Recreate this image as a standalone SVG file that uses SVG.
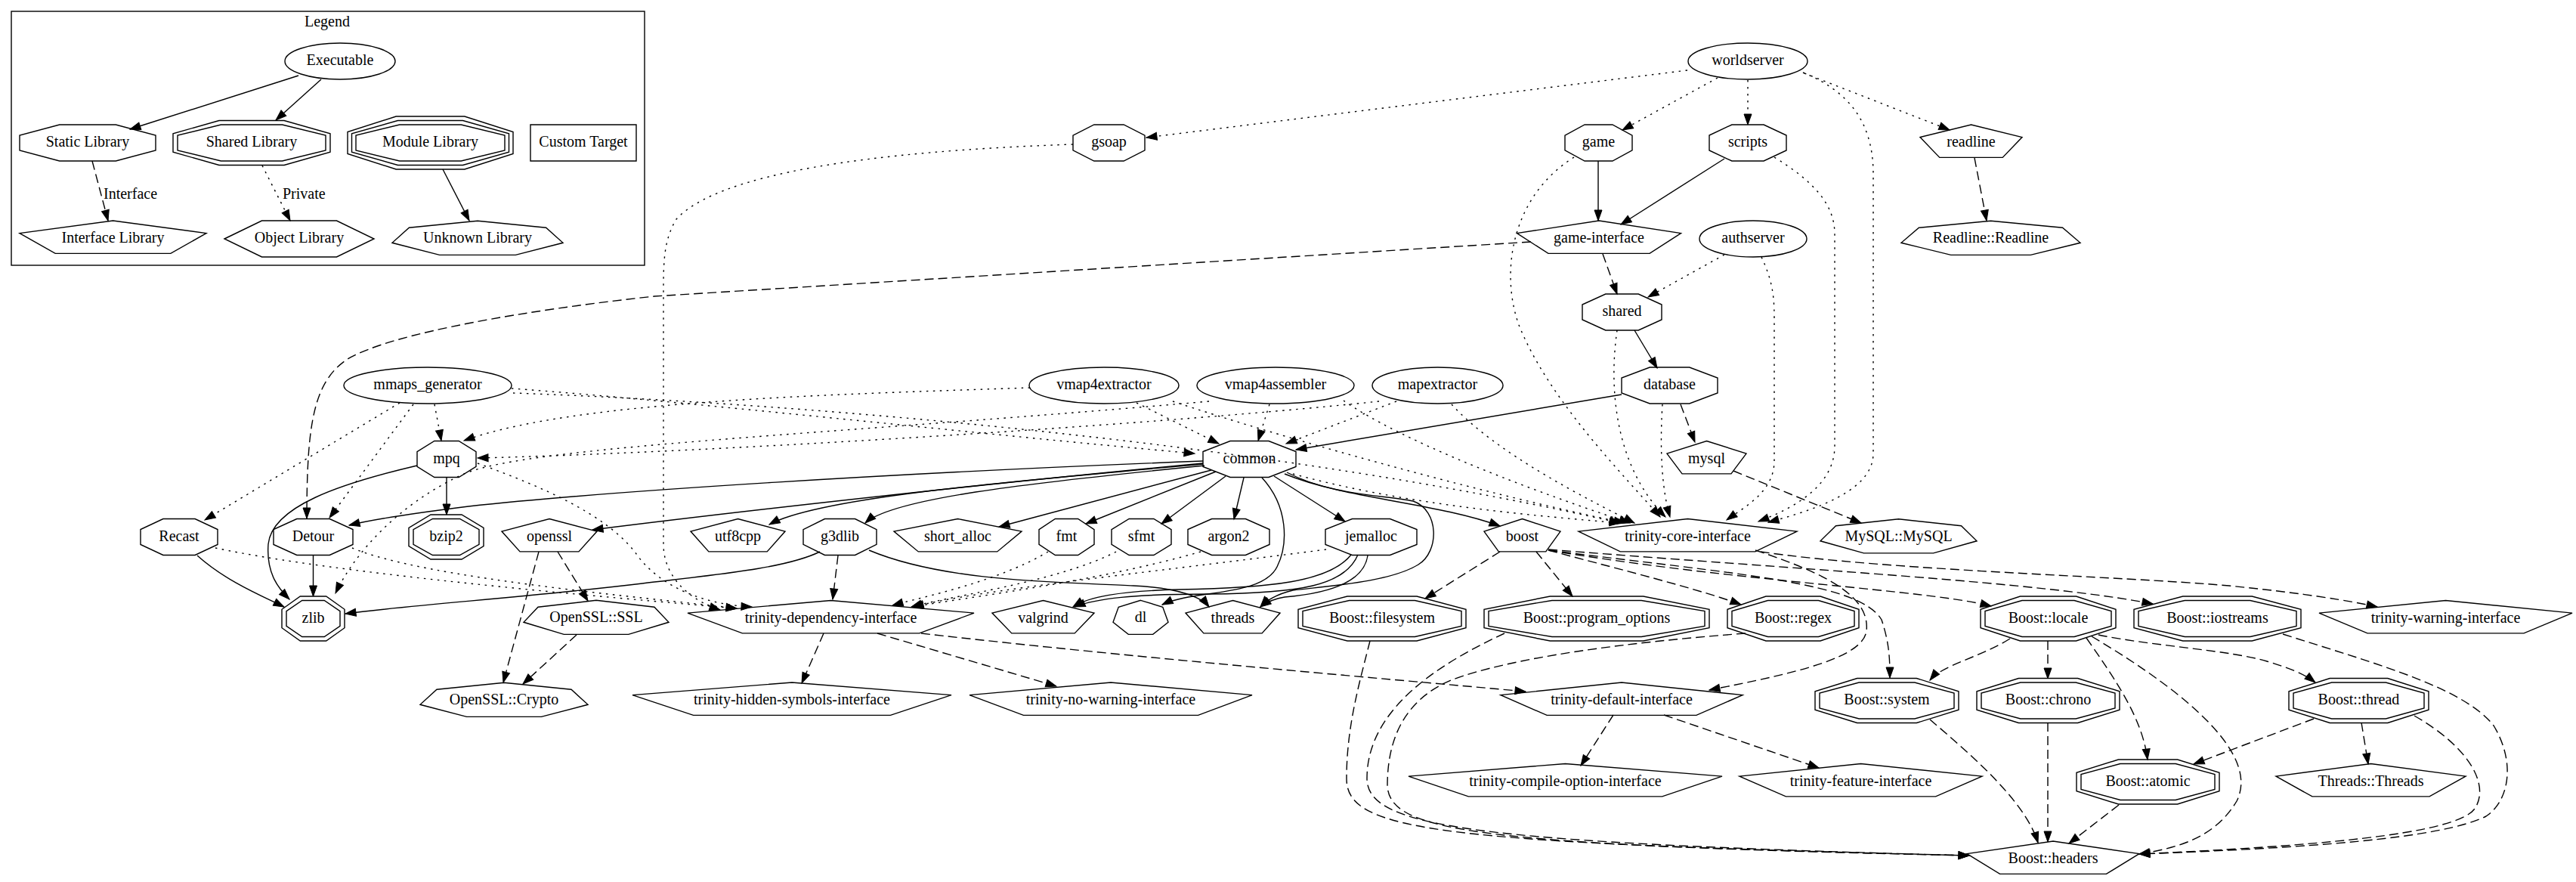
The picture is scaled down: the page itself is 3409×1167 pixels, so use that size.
<svg xmlns="http://www.w3.org/2000/svg" width="3409" height="1167" viewBox="0 0 3409 1167">
<style>
.n{fill:none;stroke:#000;stroke-width:1.4;vector-effect:non-scaling-stroke}
.t{font-family:"Liberation Serif","Times New Roman",serif;font-size:20px;text-anchor:middle;fill:#000}
.l{font-family:"Liberation Serif","Times New Roman",serif;font-size:20px;text-anchor:start;fill:#000}
.e{fill:none;stroke:#000;stroke-width:1.4;marker-end:url(#a)}
.d{stroke-dasharray:12,6}
.o{stroke-dasharray:2.5,6.5}
</style>
<defs>
<marker id="a" viewBox="0 0 14 10" refX="14" refY="5" markerWidth="14" markerHeight="10" markerUnits="userSpaceOnUse" orient="auto" overflow="visible"><path d="M0,0L14,5L0,10z" fill="#000" stroke="#000" stroke-width="1"/></marker>
</defs>
<rect width="3409" height="1167" fill="#fff"/>
<g id="legend">
<rect x="15" y="15" width="838" height="336" fill="none" stroke="#000" stroke-width="1.4"/>
<text class="t" x="433" y="35">Legend</text>
<g id="leg-executable"><ellipse class="n" cx="450" cy="81" rx="73" ry="24"/><text class="t" x="450" y="86">Executable</text></g>
<g id="leg-static"><polygon class="n" points="-0.414,-1 0.414,-1 1,-0.414 1,0.414 0.414,1 -0.414,1 -1,0.414 -1,-0.414" transform="translate(116 189) scale(90 24)"/><text class="t" x="116" y="194">Static Library</text></g>
<g id="leg-shared"><polygon class="n" points="-0.414,-1 0.414,-1 1,-0.414 1,0.414 0.414,1 -0.414,1 -1,0.414 -1,-0.414" transform="translate(333 189) scale(104 29.5)"/><polygon class="n" points="-0.414,-1 0.414,-1 1,-0.414 1,0.414 0.414,1 -0.414,1 -1,0.414 -1,-0.414" transform="translate(333 189) scale(98 24)"/><text class="t" x="333" y="194">Shared Library</text></g>
<g id="leg-module"><polygon class="n" points="-0.414,-1 0.414,-1 1,-0.414 1,0.414 0.414,1 -0.414,1 -1,0.414 -1,-0.414" transform="translate(569.5 189) scale(109.5 35)"/><polygon class="n" points="-0.414,-1 0.414,-1 1,-0.414 1,0.414 0.414,1 -0.414,1 -1,0.414 -1,-0.414" transform="translate(569.5 189) scale(104 29.5)"/><polygon class="n" points="-0.414,-1 0.414,-1 1,-0.414 1,0.414 0.414,1 -0.414,1 -1,0.414 -1,-0.414" transform="translate(569.5 189) scale(98.5 24)"/><text class="t" x="569.5" y="194">Module Library</text></g>
<g id="leg-custom"><rect class="n" x="702" y="165" width="140" height="48"/><text class="t" x="772" y="194">Custom Target</text></g>
<g id="leg-interface"><polygon class="n" points="0,-1 1,-0.309 0.618,0.809 -0.618,0.809 -1,-0.309" transform="translate(149.5 316) scale(123.5 24)"/><text class="t" x="149.5" y="321">Interface Library</text></g>
<g id="leg-object"><polygon class="n" points="-1,0 -0.5,-1 0.5,-1 1,0 0.5,1 -0.5,1" transform="translate(396 316) scale(99 24)"/><text class="t" x="396" y="321">Object Library</text></g>
<g id="leg-unknown"><polygon class="n" points="0,-1 0.802,-0.623 1,0.223 0.445,0.901 -0.445,0.901 -1,0.223 -0.802,-0.623" transform="translate(632 316) scale(113 23.7)"/><text class="t" x="632" y="321">Unknown Library</text></g>
<g id="leg-edges">
<path class="e" d="M395,100 L172,171"/>
<path class="e" d="M425,105 L365,159"/>
<path class="e d" d="M122,213 L143,292"/>
<path class="e o" d="M347,219 L384,292"/>
<path class="e" d="M586,224 L621,292"/>
<text class="l" x="137" y="263">Interface</text>
<text class="l" x="374" y="263">Private</text>
</g>
</g>

<g id="nodes">
<g id="n-worldserver"><ellipse class="n" cx="2313" cy="81" rx="79" ry="24"/><text class="t" x="2313" y="86">worldserver</text></g>
<g id="n-authserver"><ellipse class="n" cx="2320" cy="316" rx="71" ry="24"/><text class="t" x="2320" y="321">authserver</text></g>
<g id="n-mmaps_generator"><ellipse class="n" cx="566" cy="510" rx="111" ry="24"/><text class="t" x="566" y="515">mmaps_generator</text></g>
<g id="n-vmap4extractor"><ellipse class="n" cx="1461" cy="510" rx="99" ry="24"/><text class="t" x="1461" y="515">vmap4extractor</text></g>
<g id="n-vmap4assembler"><ellipse class="n" cx="1688" cy="510" rx="104" ry="24"/><text class="t" x="1688" y="515">vmap4assembler</text></g>
<g id="n-mapextractor"><ellipse class="n" cx="1902.5" cy="510" rx="86.5" ry="24"/><text class="t" x="1902.5" y="515">mapextractor</text></g>

<g id="n-gsoap"><polygon class="n" points="-0.414,-1 0.414,-1 1,-0.414 1,0.414 0.414,1 -0.414,1 -1,0.414 -1,-0.414" transform="translate(1467.5 189) scale(47.5 24)"/><text class="t" x="1467.5" y="194">gsoap</text></g>
<g id="n-game"><polygon class="n" points="-0.414,-1 0.414,-1 1,-0.414 1,0.414 0.414,1 -0.414,1 -1,0.414 -1,-0.414" transform="translate(2115.5 189) scale(44.5 24)"/><text class="t" x="2115.5" y="194">game</text></g>
<g id="n-scripts"><polygon class="n" points="-0.414,-1 0.414,-1 1,-0.414 1,0.414 0.414,1 -0.414,1 -1,0.414 -1,-0.414" transform="translate(2313 189) scale(51 24)"/><text class="t" x="2313" y="194">scripts</text></g>
<g id="n-shared"><polygon class="n" points="-0.414,-1 0.414,-1 1,-0.414 1,0.414 0.414,1 -0.414,1 -1,0.414 -1,-0.414" transform="translate(2146.5 413) scale(52.5 24)"/><text class="t" x="2146.5" y="418">shared</text></g>
<g id="n-database"><polygon class="n" points="-0.414,-1 0.414,-1 1,-0.414 1,0.414 0.414,1 -0.414,1 -1,0.414 -1,-0.414" transform="translate(2209.5 510) scale(63.5 24)"/><text class="t" x="2209.5" y="515">database</text></g>
<g id="n-mpq"><polygon class="n" points="-0.414,-1 0.414,-1 1,-0.414 1,0.414 0.414,1 -0.414,1 -1,0.414 -1,-0.414" transform="translate(591 607.5) scale(39 24)"/><text class="t" x="591" y="612.5">mpq</text></g>
<g id="n-common"><polygon class="n" points="-0.414,-1 0.414,-1 1,-0.414 1,0.414 0.414,1 -0.414,1 -1,0.414 -1,-0.414" transform="translate(1653.5 607.5) scale(61.5 24)"/><text class="t" x="1653.5" y="612.5">common</text></g>
<g id="n-Recast"><polygon class="n" points="-0.414,-1 0.414,-1 1,-0.414 1,0.414 0.414,1 -0.414,1 -1,0.414 -1,-0.414" transform="translate(237 710.5) scale(51 24)"/><text class="t" x="237" y="715.5">Recast</text></g>
<g id="n-Detour"><polygon class="n" points="-0.414,-1 0.414,-1 1,-0.414 1,0.414 0.414,1 -0.414,1 -1,0.414 -1,-0.414" transform="translate(414.5 710.5) scale(52.5 24)"/><text class="t" x="414.5" y="715.5">Detour</text></g>
<g id="n-g3dlib"><polygon class="n" points="-0.414,-1 0.414,-1 1,-0.414 1,0.414 0.414,1 -0.414,1 -1,0.414 -1,-0.414" transform="translate(1111.5 710.5) scale(48.5 24)"/><text class="t" x="1111.5" y="715.5">g3dlib</text></g>
<g id="n-fmt"><polygon class="n" points="-0.414,-1 0.414,-1 1,-0.414 1,0.414 0.414,1 -0.414,1 -1,0.414 -1,-0.414" transform="translate(1411.5 710.5) scale(36.5 24)"/><text class="t" x="1411.5" y="715.5">fmt</text></g>
<g id="n-sfmt"><polygon class="n" points="-0.414,-1 0.414,-1 1,-0.414 1,0.414 0.414,1 -0.414,1 -1,0.414 -1,-0.414" transform="translate(1510.5 710.5) scale(39.5 24)"/><text class="t" x="1510.5" y="715.5">sfmt</text></g>
<g id="n-argon2"><polygon class="n" points="-0.414,-1 0.414,-1 1,-0.414 1,0.414 0.414,1 -0.414,1 -1,0.414 -1,-0.414" transform="translate(1626 710.5) scale(54 24)"/><text class="t" x="1626" y="715.5">argon2</text></g>
<g id="n-jemalloc"><polygon class="n" points="-0.414,-1 0.414,-1 1,-0.414 1,0.414 0.414,1 -0.414,1 -1,0.414 -1,-0.414" transform="translate(1814.5 710.5) scale(60.5 24)"/><text class="t" x="1814.5" y="715.5">jemalloc</text></g>

<g id="n-readline"><polygon class="n" points="0,-1 1,-0.309 0.618,0.809 -0.618,0.809 -1,-0.309" transform="translate(2608.5 189) scale(67.5 24)"/><text class="t" x="2608.5" y="194">readline</text></g>
<g id="n-game-interface"><polygon class="n" points="0,-1 1,-0.309 0.618,0.809 -0.618,0.809 -1,-0.309" transform="translate(2116 316) scale(108.5 24)"/><text class="t" x="2116" y="321">game-interface</text></g>
<g id="n-mysql"><polygon class="n" points="0,-1 1,-0.309 0.618,0.809 -0.618,0.809 -1,-0.309" transform="translate(2258.5 607.5) scale(52.5 24)"/><text class="t" x="2258.5" y="612.5">mysql</text></g>
<g id="n-openssl"><polygon class="n" points="0,-1 1,-0.309 0.618,0.809 -0.618,0.809 -1,-0.309" transform="translate(727 710.5) scale(63 24)"/><text class="t" x="727" y="715.5">openssl</text></g>
<g id="n-utf8cpp"><polygon class="n" points="0,-1 1,-0.309 0.618,0.809 -0.618,0.809 -1,-0.309" transform="translate(976.5 710.5) scale(62.5 24)"/><text class="t" x="976.5" y="715.5">utf8cpp</text></g>
<g id="n-short_alloc"><polygon class="n" points="0,-1 1,-0.309 0.618,0.809 -0.618,0.809 -1,-0.309" transform="translate(1267.5 710.5) scale(84.5 24)"/><text class="t" x="1267.5" y="715.5">short_alloc</text></g>
<g id="n-boost"><polygon class="n" points="0,-1 1,-0.309 0.618,0.809 -0.618,0.809 -1,-0.309" transform="translate(2014.5 710.5) scale(50.5 24)"/><text class="t" x="2014.5" y="715.5">boost</text></g>
<g id="n-trinity-core-interface"><polygon class="n" points="0,-1 1,-0.309 0.618,0.809 -0.618,0.809 -1,-0.309" transform="translate(2233.5 710.5) scale(144.5 24)"/><text class="t" x="2233.5" y="715.5">trinity-core-interface</text></g>
<g id="n-trinity-dependency-interface"><polygon class="n" points="0,-1 1,-0.309 0.618,0.809 -0.618,0.809 -1,-0.309" transform="translate(1099.5 818.5) scale(189.5 24)"/><text class="t" x="1099.5" y="823.5">trinity-dependency-interface</text></g>
<g id="n-valgrind"><polygon class="n" points="0,-1 1,-0.309 0.618,0.809 -0.618,0.809 -1,-0.309" transform="translate(1380.5 818.5) scale(67.5 24)"/><text class="t" x="1380.5" y="823.5">valgrind</text></g>
<g id="n-threads"><polygon class="n" points="0,-1 1,-0.309 0.618,0.809 -0.618,0.809 -1,-0.309" transform="translate(1631.5 818.5) scale(62.5 24)"/><text class="t" x="1631.5" y="823.5">threads</text></g>
<g id="n-trinity-warning-interface"><polygon class="n" points="0,-1 1,-0.309 0.618,0.809 -0.618,0.809 -1,-0.309" transform="translate(3236.5 818.5) scale(167.5 24)"/><text class="t" x="3236.5" y="823.5">trinity-warning-interface</text></g>
<g id="n-trinity-hidden-symbols-interface"><polygon class="n" points="0,-1 1,-0.309 0.618,0.809 -0.618,0.809 -1,-0.309" transform="translate(1048 927) scale(211 24)"/><text class="t" x="1048" y="932">trinity-hidden-symbols-interface</text></g>
<g id="n-trinity-no-warning-interface"><polygon class="n" points="0,-1 1,-0.309 0.618,0.809 -0.618,0.809 -1,-0.309" transform="translate(1470 927) scale(187 24)"/><text class="t" x="1470" y="932">trinity-no-warning-interface</text></g>
<g id="n-trinity-default-interface"><polygon class="n" points="0,-1 1,-0.309 0.618,0.809 -0.618,0.809 -1,-0.309" transform="translate(2146 927) scale(160 24)"/><text class="t" x="2146" y="932">trinity-default-interface</text></g>
<g id="n-trinity-compile-option-interface"><polygon class="n" points="0,-1 1,-0.309 0.618,0.809 -0.618,0.809 -1,-0.309" transform="translate(2071.5 1034.5) scale(207.5 24)"/><text class="t" x="2071.5" y="1039.5">trinity-compile-option-interface</text></g>
<g id="n-trinity-feature-interface"><polygon class="n" points="0,-1 1,-0.309 0.618,0.809 -0.618,0.809 -1,-0.309" transform="translate(2462.5 1034.5) scale(160.5 24)"/><text class="t" x="2462.5" y="1039.5">trinity-feature-interface</text></g>
<g id="n-Threads-Threads"><polygon class="n" points="0,-1 1,-0.309 0.618,0.809 -0.618,0.809 -1,-0.309" transform="translate(3137.5 1034.5) scale(125.5 24)"/><text class="t" x="3137.5" y="1039.5">Threads::Threads</text></g>
<g id="n-Boost-headers"><polygon class="n" points="0,-1 1,-0.309 0.618,0.809 -0.618,0.809 -1,-0.309" transform="translate(2717 1137) scale(114 24)"/><text class="t" x="2717" y="1142">Boost::headers</text></g>

<g id="n-Readline-Readline"><polygon class="n" points="0,-1 0.802,-0.623 1,0.223 0.445,0.901 -0.445,0.901 -1,0.223 -0.802,-0.623" transform="translate(2634.5 316) scale(118.5 23.7)"/><text class="t" x="2634.5" y="321">Readline::Readline</text></g>
<g id="n-MySQL-MySQL"><polygon class="n" points="0,-1 0.802,-0.623 1,0.223 0.445,0.901 -0.445,0.901 -1,0.223 -0.802,-0.623" transform="translate(2512.5 710.5) scale(103.5 23.7)"/><text class="t" x="2512.5" y="715.5">MySQL::MySQL</text></g>
<g id="n-OpenSSL-SSL"><polygon class="n" points="0,-1 0.802,-0.623 1,0.223 0.445,0.901 -0.445,0.901 -1,0.223 -0.802,-0.623" transform="translate(789 818) scale(96 23.7)"/><text class="t" x="789" y="823">OpenSSL::SSL</text></g>
<g id="n-dl"><polygon class="n" points="0,-1 0.802,-0.623 1,0.223 0.445,0.901 -0.445,0.901 -1,0.223 -0.802,-0.623" transform="translate(1509.5 818) scale(36.5 23.7)"/><text class="t" x="1509.5" y="823">dl</text></g>
<g id="n-OpenSSL-Crypto"><polygon class="n" points="0,-1 0.802,-0.623 1,0.223 0.445,0.901 -0.445,0.901 -1,0.223 -0.802,-0.623" transform="translate(667 927) scale(111 23.7)"/><text class="t" x="667" y="932">OpenSSL::Crypto</text></g>

<g id="n-bzip2"><polygon class="n" points="-0.414,-1 0.414,-1 1,-0.414 1,0.414 0.414,1 -0.414,1 -1,0.414 -1,-0.414" transform="translate(590.5 710.5) scale(49.5 29.5)"/><polygon class="n" points="-0.414,-1 0.414,-1 1,-0.414 1,0.414 0.414,1 -0.414,1 -1,0.414 -1,-0.414" transform="translate(590.5 710.5) scale(43.5 24)"/><text class="t" x="590.5" y="715.5">bzip2</text></g>
<g id="n-zlib"><polygon class="n" points="-0.414,-1 0.414,-1 1,-0.414 1,0.414 0.414,1 -0.414,1 -1,0.414 -1,-0.414" transform="translate(414.5 818.5) scale(41.5 29.5)"/><polygon class="n" points="-0.414,-1 0.414,-1 1,-0.414 1,0.414 0.414,1 -0.414,1 -1,0.414 -1,-0.414" transform="translate(414.5 818.5) scale(35.5 24)"/><text class="t" x="414.5" y="823.5">zlib</text></g>
<g id="n-Boost-filesystem"><polygon class="n" points="-0.414,-1 0.414,-1 1,-0.414 1,0.414 0.414,1 -0.414,1 -1,0.414 -1,-0.414" transform="translate(1829 818.5) scale(111 29.5)"/><polygon class="n" points="-0.414,-1 0.414,-1 1,-0.414 1,0.414 0.414,1 -0.414,1 -1,0.414 -1,-0.414" transform="translate(1829 818.5) scale(105 24)"/><text class="t" x="1829" y="823.5">Boost::filesystem</text></g>
<g id="n-Boost-program_options"><polygon class="n" points="-0.414,-1 0.414,-1 1,-0.414 1,0.414 0.414,1 -0.414,1 -1,0.414 -1,-0.414" transform="translate(2113 818.5) scale(149 29.5)"/><polygon class="n" points="-0.414,-1 0.414,-1 1,-0.414 1,0.414 0.414,1 -0.414,1 -1,0.414 -1,-0.414" transform="translate(2113 818.5) scale(143 24)"/><text class="t" x="2113" y="823.5">Boost::program_options</text></g>
<g id="n-Boost-regex"><polygon class="n" points="-0.414,-1 0.414,-1 1,-0.414 1,0.414 0.414,1 -0.414,1 -1,0.414 -1,-0.414" transform="translate(2373 818.5) scale(87 29.5)"/><polygon class="n" points="-0.414,-1 0.414,-1 1,-0.414 1,0.414 0.414,1 -0.414,1 -1,0.414 -1,-0.414" transform="translate(2373 818.5) scale(81 24)"/><text class="t" x="2373" y="823.5">Boost::regex</text></g>
<g id="n-Boost-locale"><polygon class="n" points="-0.414,-1 0.414,-1 1,-0.414 1,0.414 0.414,1 -0.414,1 -1,0.414 -1,-0.414" transform="translate(2710.5 818.5) scale(89.5 29.5)"/><polygon class="n" points="-0.414,-1 0.414,-1 1,-0.414 1,0.414 0.414,1 -0.414,1 -1,0.414 -1,-0.414" transform="translate(2710.5 818.5) scale(83.5 24)"/><text class="t" x="2710.5" y="823.5">Boost::locale</text></g>
<g id="n-Boost-iostreams"><polygon class="n" points="-0.414,-1 0.414,-1 1,-0.414 1,0.414 0.414,1 -0.414,1 -1,0.414 -1,-0.414" transform="translate(2934.5 818.5) scale(110.5 29.5)"/><polygon class="n" points="-0.414,-1 0.414,-1 1,-0.414 1,0.414 0.414,1 -0.414,1 -1,0.414 -1,-0.414" transform="translate(2934.5 818.5) scale(104.5 24)"/><text class="t" x="2934.5" y="823.5">Boost::iostreams</text></g>
<g id="n-Boost-system"><polygon class="n" points="-0.414,-1 0.414,-1 1,-0.414 1,0.414 0.414,1 -0.414,1 -1,0.414 -1,-0.414" transform="translate(2497 927) scale(95 29.5)"/><polygon class="n" points="-0.414,-1 0.414,-1 1,-0.414 1,0.414 0.414,1 -0.414,1 -1,0.414 -1,-0.414" transform="translate(2497 927) scale(89 24)"/><text class="t" x="2497" y="932">Boost::system</text></g>
<g id="n-Boost-chrono"><polygon class="n" points="-0.414,-1 0.414,-1 1,-0.414 1,0.414 0.414,1 -0.414,1 -1,0.414 -1,-0.414" transform="translate(2710.5 927) scale(94.5 29.5)"/><polygon class="n" points="-0.414,-1 0.414,-1 1,-0.414 1,0.414 0.414,1 -0.414,1 -1,0.414 -1,-0.414" transform="translate(2710.5 927) scale(88.5 24)"/><text class="t" x="2710.5" y="932">Boost::chrono</text></g>
<g id="n-Boost-thread"><polygon class="n" points="-0.414,-1 0.414,-1 1,-0.414 1,0.414 0.414,1 -0.414,1 -1,0.414 -1,-0.414" transform="translate(3121.5 927) scale(92.5 29.5)"/><polygon class="n" points="-0.414,-1 0.414,-1 1,-0.414 1,0.414 0.414,1 -0.414,1 -1,0.414 -1,-0.414" transform="translate(3121.5 927) scale(86.5 24)"/><text class="t" x="3121.5" y="932">Boost::thread</text></g>
<g id="n-Boost-atomic"><polygon class="n" points="-0.414,-1 0.414,-1 1,-0.414 1,0.414 0.414,1 -0.414,1 -1,0.414 -1,-0.414" transform="translate(2842.5 1034.5) scale(94.5 29.5)"/><polygon class="n" points="-0.414,-1 0.414,-1 1,-0.414 1,0.414 0.414,1 -0.414,1 -1,0.414 -1,-0.414" transform="translate(2842.5 1034.5) scale(88.5 24)"/><text class="t" x="2842.5" y="1039.5">Boost::atomic</text></g>
</g>

<g id="edges">
<path class="e o" d="M2233,93 L1517,182"/>
<path class="e o" d="M2273,103 L2147,172"/>
<path class="e o" d="M2313,106 L2313,165"/>
<path class="e o" d="M2388,97 L2580,172"/>
<path class="e o" d="M2386,96 C2445,120 2479,160 2479,230 L2479,600 C2479,650 2400,675 2340,691"/>
<path class="e o" d="M2348,208 C2400,240 2428,270 2428,310 L2428,590 C2428,640 2380,670 2327,690"/>
<path class="e o" d="M2331,340 C2345,370 2348,390 2348,420 L2348,610 C2348,650 2310,670 2285,688"/>
<path class="e o" d="M2282,337 L2181,393"/>
<path class="e d" d="M2121,336 L2140,389"/>
<path class="e" d="M2163,437 L2193,487"/>
<path class="e o" d="M2140,437 C2128,520 2140,620 2204,684"/>
<path class="e o" d="M2200,535 C2196,600 2200,650 2210,684"/>
<path class="e o" d="M2083,208 C2000,260 1985,360 2010,430 C2050,530 2150,630 2197,684"/>
<path class="e" d="M2115,213 L2115,292"/>
<path class="e" d="M2282,210 L2145,297"/>
<path class="e d" d="M2613,209 L2629,292"/>
<path class="e d" d="M2026,320 L866,392 C700,410 520,440 460,475 C415,505 406,560 406,686"/>
<path class="e o" d="M1420,191 C1150,200 950,230 895,290 C880,315 878,340 878,380 L878,720 C878,765 915,795 953,807"/>
<path class="e" d="M2146,522 L1715,595"/>
<path class="e d" d="M2224,535 L2243,585"/>
<path class="e d" d="M2294,623 L2463,692"/>
<path class="e o" d="M529,533 L271,688"/>
<path class="e o" d="M547,535 L436,685"/>
<path class="e o" d="M575,535 L584,583"/>
<path class="e o" d="M677,514 C900,530 1300,575 1581,600"/>
<path class="e o" d="M679,520 C1100,535 1700,590 2144,692"/>
<path class="e o" d="M1363,513 C1100,522 760,530 614,583"/>
<path class="e o" d="M1504,533 L1613,587"/>
<path class="e o" d="M1552,531 C1700,580 1950,650 2150,692"/>
<path class="e o" d="M1600,531 C1100,575 700,590 614,627 C530,665 470,730 444,785"/>
<path class="e o" d="M1680,535 L1665,583"/>
<path class="e o" d="M1778,530 C1850,580 2000,640 2157,692"/>
<path class="e o" d="M1825,531 C1500,565 900,600 632,606"/>
<path class="e o" d="M1848,531 L1702,587"/>
<path class="e o" d="M1921,535 C1980,600 2100,660 2163,692"/>
<path class="e o" d="M1711,627 C1850,665 2000,680 2144,692"/>
<path class="e" d="M1592,610 C1200,625 800,650 620,670 C540,680 490,688 462,695"/>
<path class="e" d="M1592,613 C1300,640 950,680 784,701"/>
<path class="e" d="M1592,614 C1300,640 1080,660 1018,694"/>
<path class="e" d="M1594,616 C1350,640 1180,660 1145,692"/>
<path class="e" d="M1603,622 L1322,697"/>
<path class="e" d="M1609,624 L1437,693"/>
<path class="e" d="M1622,630 L1537,693"/>
<path class="e" d="M1646,632 L1633,687"/>
<path class="e" d="M1686,630 L1780,690"/>
<path class="e" d="M1670,632 C1705,670 1705,720 1690,750 C1670,790 1580,780 1538,800"/>
<path class="e" d="M1700,627 C1780,660 1900,665 1985,696"/>
<path class="e" d="M1703,625 C1760,655 1830,655 1870,663 C1905,675 1905,730 1877,747 C1840,770 1760,775 1711,781 C1690,786 1675,795 1668,803"/>
<path class="e" d="M1788,734 C1760,770 1680,778 1560,780 C1480,782 1440,790 1420,803"/>
<path class="e" d="M1797,734 C1780,775 1720,785 1600,786 C1500,786 1450,792 1422,803"/>
<path class="e" d="M1810,735 C1805,770 1760,785 1700,790 C1685,792 1675,798 1668,803"/>
<path class="e o" d="M1755,727 C1500,760 1300,780 1208,803"/>
<path class="e" d="M1150,728 C1250,770 1400,770 1500,775 C1560,778 1590,790 1600,803"/>
<path class="e" d="M1085,730 C1040,752 950,760 850,772 C700,790 550,800 457,812"/>
<path class="e d" d="M1109,735 L1102,793"/>
<path class="e o" d="M1387,730 C1320,770 1220,790 1181,801"/>
<path class="e o" d="M1477,730 C1400,770 1250,790 1206,803"/>
<path class="e o" d="M1589,730 C1450,770 1280,790 1208,803"/>
<path class="e" d="M261,735 C300,770 350,790 376,803"/>
<path class="e" d="M552,616 C450,640 360,670 355,720 C352,760 370,780 383,793"/>
<path class="e" d="M414.5,735 L414.5,789"/>
<path class="e" d="M591,632 L591,681"/>
<path class="e o" d="M285,725 C450,760 800,790 975,805"/>
<path class="e o" d="M466,725 C560,765 850,790 975,805"/>
<path class="e o" d="M632,613 C720,645 800,680 840,730 C870,775 930,800 995,803"/>
<path class="e d" d="M713,730 L666,903"/>
<path class="e d" d="M738,730 L778,795"/>
<path class="e d" d="M763,840 L692,905"/>
<path class="e d" d="M1090,838 L1061,904"/>
<path class="e d" d="M1161,838 L1398,908"/>
<path class="e d" d="M1219,838 C1500,870 1800,895 2019,915"/>
<path class="e d" d="M2135,946 L2092,1013"/>
<path class="e d" d="M2202,946 L2407,1016"/>
<path class="e d" d="M2323,728 C2420,760 2475,790 2470,835 C2465,870 2380,890 2262,913"/>
<path class="e d" d="M2330,730 C2500,755 2800,762 2950,775 C3050,785 3110,795 3146,803"/>
<path class="e d" d="M1985,730 L1886,792"/>
<path class="e d" d="M2033,730 L2081,789"/>
<path class="e d" d="M2049,728 C2150,755 2250,780 2304,800"/>
<path class="e d" d="M2049,728 C2300,770 2550,780 2635,802"/>
<path class="e d" d="M2049,727 C2400,755 2700,770 2849,799"/>
<path class="e d" d="M2049,728 C2300,760 2460,770 2490,820 C2500,850 2501,870 2501,897"/>
<path class="e d" d="M1813,848 C1800,900 1782,960 1782,1030 C1782,1100 1900,1115 2606,1132"/>
<path class="e d" d="M1991,838 C1900,880 1809,940 1809,1030 C1809,1095 1950,1115 2606,1132"/>
<path class="e d" d="M2310,838 C2150,850 2000,870 1920,900 C1850,930 1836,990 1836,1040 C1840,1100 1950,1118 2606,1132"/>
<path class="e d" d="M2554,952 C2610,1000 2680,1060 2697,1115"/>
<path class="e d" d="M2710,956 L2710,1114"/>
<path class="e d" d="M2804,1065 L2738,1116"/>
<path class="e d" d="M2710,848 L2710,898"/>
<path class="e d" d="M2761,844 C2800,900 2835,950 2842,1005"/>
<path class="e d" d="M2777,840 C2850,855 2950,860 3000,875 C3030,884 3050,892 3064,903"/>
<path class="e d" d="M2768,842 C2900,920 2990,1000 2960,1060 C2930,1110 2880,1122 2831,1130"/>
<path class="e d" d="M2660,845 C2620,870 2570,880 2554,900"/>
<path class="e d" d="M3062,951 L2903,1011"/>
<path class="e d" d="M3125,956 L3134,1011"/>
<path class="e d" d="M3195,947 C3270,990 3295,1040 3275,1070 C3250,1105 3050,1120 2831,1130"/>
<path class="e d" d="M3021,839 C3150,880 3260,910 3300,960 C3330,1010 3320,1060 3290,1080 C3230,1110 3050,1122 2831,1130"/>
</g>
</svg>
